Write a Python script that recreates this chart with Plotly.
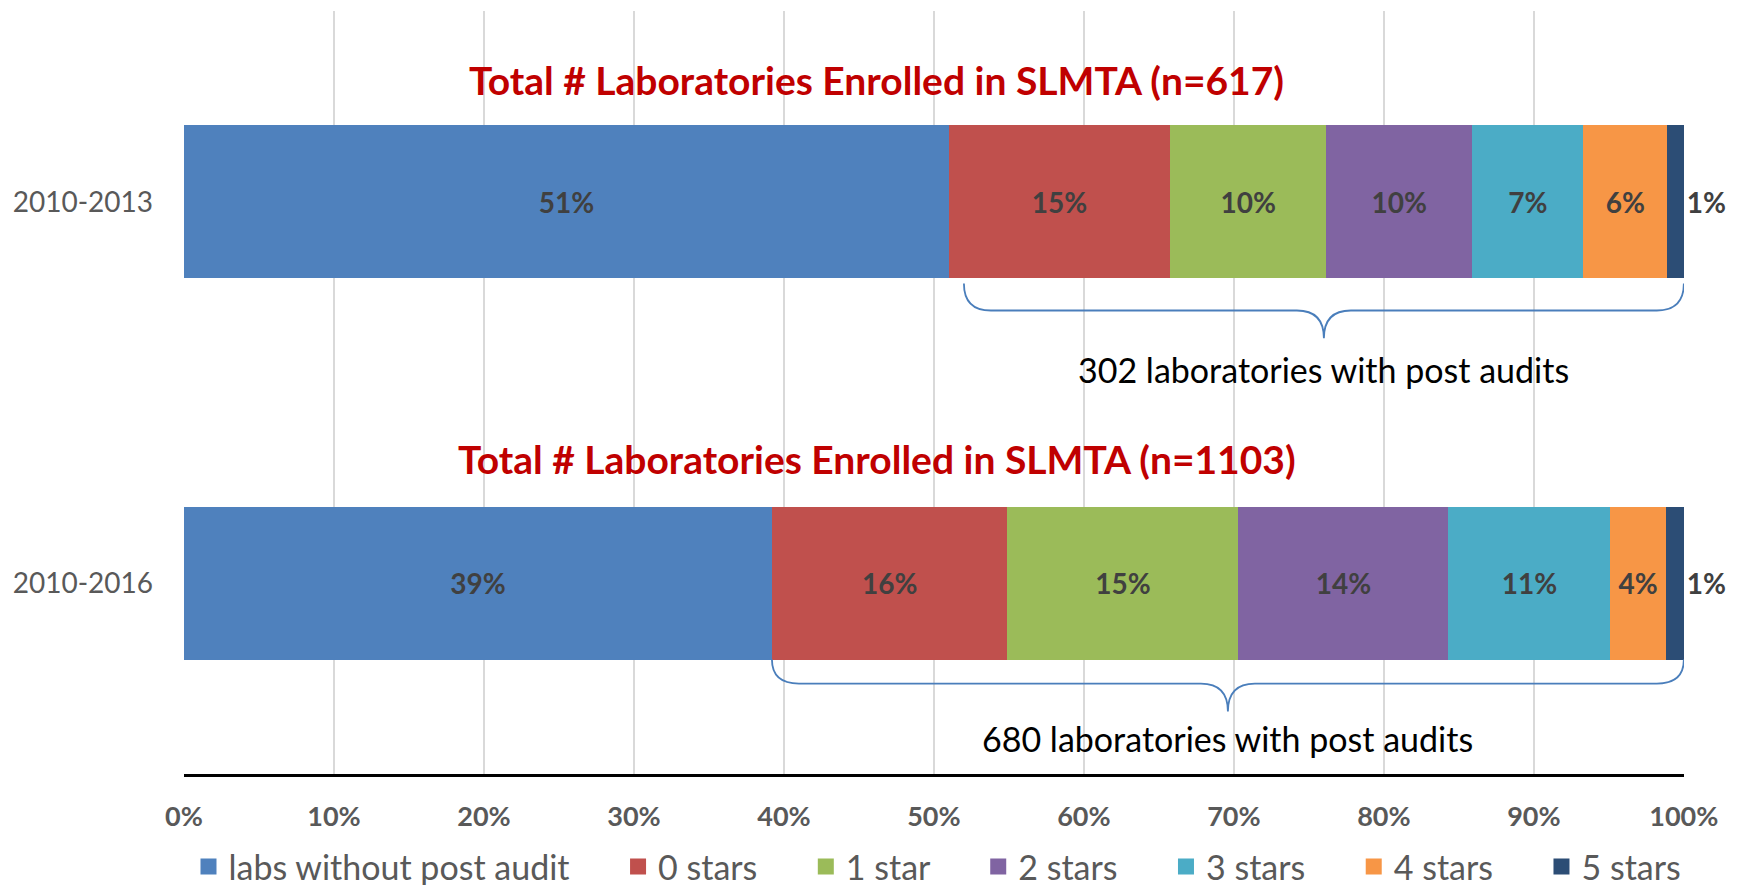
import plotly.graph_objects as go

# ---------------- data ----------------
periods = ["2010-2013", "2010-2016"]
series_names = ["labs without post audit", "0 stars", "1 star", "2 stars",
                "3 stars", "4 stars", "5 stars"]
colors = ["#4F81BD", "#C0504D", "#9BBB59", "#8064A2", "#4BACC6", "#F79646", "#2C4D75"]
pct_2013 = [51.0, 14.75, 10.4, 9.75, 7.4, 5.6, 1.1]
pct_2016 = [39.2, 15.7, 15.4, 14.0, 10.8, 3.7, 1.2]
labels_2013 = ["51%", "15%", "10%", "10%", "7%", "6%", "1%"]
labels_2016 = ["39%", "16%", "15%", "14%", "11%", "4%", "1%"]
titles = ["Total # Laboratories Enrolled in SLMTA (n=617)",
          "Total # Laboratories Enrolled in SLMTA (n=1103)"]
post_audit_texts = ["302 laboratories with post audits",
                    "680 laboratories with post audits"]
x_ticks = [0, 10, 20, 30, 40, 50, 60, 70, 80, 90, 100]
x_tick_labels = [f"{v}%" for v in x_ticks]

FONT = "Lato"
GRAY = "#595959"
LABEL = "#404040"
NBSP = "\u00a0"

fig = go.Figure()

ypos = list(range(len(periods)))
for i, name in enumerate(series_names):
    last = i == len(series_names) - 1
    fig.add_trace(go.Bar(
        y=ypos, x=[pct_2013[i], pct_2016[i]], orientation="h",
        name=name, marker=dict(color=colors[i], line=dict(width=0)),
        text=[labels_2013[i], labels_2016[i]],
        textposition="outside" if last else "inside",
        insidetextanchor="middle", textangle=0, constraintext="none",
        textfont=dict(family=FONT, size=28, color=LABEL, weight="bold"),
        outsidetextfont=dict(family=FONT, size=28, color=LABEL, weight="bold"),
        cliponaxis=False, showlegend=False,
        hovertemplate="%{x}%<extra>" + name + "</extra>",
    ))

# legend entries (same series, same colours)
for i, name in enumerate(series_names):
    pad = NBSP * 5 if i < len(series_names) - 1 else ""
    fig.add_trace(go.Scatter(
        x=[None], y=[None], mode="markers", name=name + pad,
        marker=dict(symbol="square", size=16, color=colors[i]),
        showlegend=True,
    ))

# braces below bars
bar_half = 0.2
brace_pad_left = [1.0, 0.0]
brace_top = [0.014, 0.0]
brace_mid = [0.085, 0.063]
brace_tip = [0.158, 0.136]
text_y = [0.441, 1.406]
firsts = [pct_2013[0], pct_2016[0]]
r = 1.8
shapes = []
for k in range(2):
    x0 = firsts[k] + brace_pad_left[k]
    x1 = 100.0
    xm = (x0 + x1) / 2
    base = k + bar_half
    yt = base + brace_top[k]
    ym = base + brace_mid[k]
    yp = base + brace_tip[k]
    path = (f"M {x0},{yt} Q {x0},{ym} {x0 + r},{ym} L {xm - r},{ym} "
            f"Q {xm},{ym} {xm},{yp} Q {xm},{ym} {xm + r},{ym} "
            f"L {x1 - r},{ym} Q {x1},{ym} {x1},{yt}")
    shapes.append(dict(type="path", xref="x", yref="y", path=path,
                       line=dict(color="#4A7EBB", width=1.8)))
    fig.add_annotation(x=xm, y=text_y[k], xref="x", yref="y",
                       text=post_audit_texts[k], showarrow=False,
                       font=dict(family=FONT, size=34, color="#000000"))

title_y = [-0.319, 0.674]
for k in range(2):
    fig.add_annotation(x=46.2, y=title_y[k], xref="x", yref="y",
                       text=titles[k], showarrow=False,
                       font=dict(family=FONT, size=39, color="#C00000", weight="bold"))

fig.update_layout(
    width=1739, height=885,
    margin=dict(l=176, r=63, t=3, b=119),
    paper_bgcolor="white", plot_bgcolor="white",
    barmode="stack", bargap=0.6,
    shapes=shapes,
    legend=dict(orientation="h", traceorder="normal",
                x=0.5345, xanchor="center", xref="container",
                y=0.0294, yanchor="middle", yref="container",
                font=dict(family=FONT, size=34, color=GRAY), itemwidth=30,
                bgcolor="rgba(0,0,0,0)"),
    xaxis=dict(range=[0, 100.01], tickvals=x_ticks, ticktext=x_tick_labels,
               showgrid=True, gridcolor="#D9D9D9", gridwidth=1.5,
               zeroline=False, showline=True, linecolor="black", linewidth=2.5,
               ticks="", ticklabelstandoff=17,
               tickfont=dict(family=FONT, size=27, color=GRAY, weight="bold")),
    yaxis=dict(range=[1.5, -0.5], tickvals=ypos, ticktext=periods,
               showgrid=False, zeroline=False, showline=False, ticks="",
               ticklabelstandoff=30,
               tickfont=dict(family=FONT, size=28, color=GRAY)),
)

fig.write_html("out.html")
